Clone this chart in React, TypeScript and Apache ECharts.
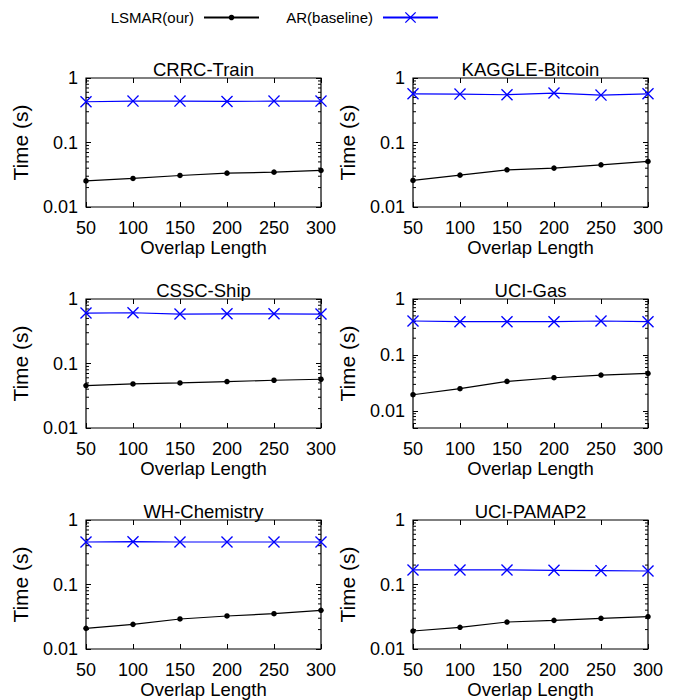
import React, { useEffect, useRef } from "react";
import * as echarts from "echarts";

// ---------- data ----------
const overlapLengths = [50, 100, 150, 200, 250, 300];
const panelTitles = ["CRRC-Train", "KAGGLE-Bitcoin", "CSSC-Ship", "UCI-Gas", "WH-Chemistry", "UCI-PAMAP2"];
const seriesNames = ["LSMAR(our)", "AR(baseline)"];

const lsmarCRRC = [0.0254, 0.0277, 0.0308, 0.0335, 0.0347, 0.0369];
const lsmarKaggle = [0.0258, 0.0312, 0.0377, 0.0401, 0.0451, 0.0509];
const lsmarCSSC = [0.0455, 0.0482, 0.0499, 0.0525, 0.055, 0.057];
const lsmarGas = [0.0196, 0.0251, 0.0339, 0.0394, 0.044, 0.0471];
const lsmarWH = [0.0209, 0.0241, 0.0292, 0.0325, 0.0353, 0.0398];
const lsmarPAMAP = [0.019, 0.0217, 0.0262, 0.0278, 0.0299, 0.0317];

const arCRRC = [0.428, 0.438, 0.438, 0.433, 0.438, 0.438];
const arKaggle = [0.569, 0.563, 0.55, 0.584, 0.543, 0.569];
const arCSSC = [0.605, 0.612, 0.584, 0.59, 0.59, 0.584];
const arGas = [0.405, 0.394, 0.394, 0.394, 0.405, 0.394];
const arWH = [0.456, 0.461, 0.456, 0.456, 0.456, 0.456];
const arPAMAP = [0.168, 0.168, 0.168, 0.166, 0.164, 0.162];

const lsmarAll = [lsmarCRRC, lsmarKaggle, lsmarCSSC, lsmarGas, lsmarWH, lsmarPAMAP];
const arAll = [arCRRC, arKaggle, arCSSC, arGas, arWH, arPAMAP];

const yMins = [0.01, 0.01, 0.01, 0.005, 0.01, 0.01];
const yMax = 1;
const xMin = 50;
const xMax = 300;
const xInterval = 50;
const minorTickValues = [
  0.006, 0.007, 0.008, 0.009,
  0.02, 0.03, 0.04, 0.05, 0.06, 0.07, 0.08, 0.09,
  0.2, 0.3, 0.4, 0.5, 0.6, 0.7, 0.8, 0.9,
];

// ---------- layout / style ----------
const FONT = "'Liberation Sans', Arial, Helvetica, sans-serif";
const GRID_LEFTS = [86, 413];
const GRID_TOPS = [78, 299, 520];
const GRID_W = 235;
const GRID_H = 129;
const BLUE = "#0000ff";
const BLACK = "#000000";
const CROSS = "path://M0 8L8 0L50 42L92 0L100 8L58 50L100 92L92 100L50 58L8 100L0 92L42 50Z";

function isPow10(v: number) {
  const l = Math.log10(v);
  return Math.abs(l - Math.round(l)) < 1e-6;
}

function buildOption() {
  const grid: any[] = [];
  const xAxis: any[] = [];
  const yAxis: any[] = [];
  const series: any[] = [];

  panelTitles.forEach((title, i) => {
    const col = i % 2;
    const row = Math.floor(i / 2);
    grid.push({
      left: GRID_LEFTS[col],
      top: GRID_TOPS[row],
      width: GRID_W,
      height: GRID_H,
      show: true,
      borderColor: BLACK,
      borderWidth: 1.2,
      backgroundColor: "transparent",
    });
    const tickStyle = { color: BLACK, width: 1 };
    xAxis.push({
      gridIndex: i,
      type: "value",
      position: "bottom",
      min: xMin,
      max: xMax,
      interval: xInterval,
      axisLine: { show: false },
      axisTick: { show: true, inside: true, length: 5, lineStyle: tickStyle },
      axisLabel: {
        color: BLACK,
        fontSize: 18,
        fontFamily: FONT,
        margin: 21,
        verticalAlign: "middle",
      },
      splitLine: { show: false },
      name: "Overlap Length",
      nameLocation: "middle",
      nameGap: 40,
      nameTextStyle: { color: BLACK, fontSize: 18.5, fontFamily: FONT, verticalAlign: "middle" },
    });
    xAxis.push({
      gridIndex: i,
      type: "value",
      position: "top",
      min: xMin,
      max: xMax,
      interval: xInterval,
      axisLine: { show: false },
      axisTick: { show: true, inside: true, length: 5, lineStyle: tickStyle },
      axisLabel: { show: false },
      splitLine: { show: false },
      name: title,
      nameLocation: "middle",
      nameGap: 9,
      nameTextStyle: { color: BLACK, fontSize: 18.5, fontFamily: FONT, verticalAlign: "middle" },
    });
    yAxis.push({
      gridIndex: i,
      type: "log",
      logBase: 10,
      position: "left",
      min: yMins[i],
      max: yMax,
      axisLine: { show: false },
      axisTick: { show: true, inside: true, length: 5, lineStyle: tickStyle },
      axisLabel: {
        color: BLACK,
        fontSize: 18,
        fontFamily: FONT,
        margin: 8,
        formatter: (v: number) => (isPow10(v) ? String(Number(v.toPrecision(6))) : ""),
      },
      splitLine: { show: false },
      minorTick: { show: false },
      name: "Time (s)",
      nameLocation: "middle",
      nameGap: 66,
      nameTextStyle: { color: BLACK, fontSize: 21, fontFamily: FONT, verticalAlign: "middle", align: "center" },
    });
    yAxis.push({
      gridIndex: i,
      type: "log",
      logBase: 10,
      position: "right",
      min: yMins[i],
      max: yMax,
      axisLine: { show: false },
      axisTick: { show: true, inside: true, length: 5, lineStyle: tickStyle },
      axisLabel: { show: false },
      splitLine: { show: false },
    });

    const xIdx = 2 * i;
    const yIdx = 2 * i;
    // minor log ticks (mirrored on both sides)
    series.push({
      type: "custom",
      name: "minor-" + i,
      xAxisIndex: xIdx,
      yAxisIndex: yIdx,
      silent: true,
      clip: false,
      data: minorTickValues.filter((v) => v > yMins[i] && v < yMax).map((v) => [xMin, v]),
      renderItem: (params: any, api: any) => {
        const v = api.value(1);
        const pL = api.coord([xMin, v]);
        const pR = api.coord([xMax, v]);
        const st = { stroke: BLACK, lineWidth: 1 };
        return {
          type: "group",
          children: [
            { type: "line", shape: { x1: pL[0], y1: pL[1], x2: pL[0] + 3, y2: pL[1] }, style: st },
            { type: "line", shape: { x1: pR[0] - 3, y1: pR[1], x2: pR[0], y2: pR[1] }, style: st },
          ],
        };
      },
    });
    series.push({
      type: "line",
      name: seriesNames[0],
      xAxisIndex: xIdx,
      yAxisIndex: yIdx,
      data: overlapLengths.map((x, k) => [x, lsmarAll[i][k]]),
      symbol: "circle",
      symbolSize: 5.5,
      showAllSymbol: true,
      itemStyle: { color: BLACK },
      lineStyle: { color: BLACK, width: 1.2 },
      clip: false,
      z: 3,
    });
    series.push({
      type: "line",
      name: seriesNames[1],
      xAxisIndex: xIdx,
      yAxisIndex: yIdx,
      data: overlapLengths.map((x, k) => [x, arAll[i][k]]),
      symbol: CROSS,
      symbolSize: 12,
      showAllSymbol: true,
      itemStyle: { color: BLUE },
      lineStyle: { color: BLUE, width: 1.2 },
      clip: false,
      z: 4,
    });
  });

  const legendText = { color: BLACK, fontSize: 15, fontFamily: FONT, padding: [0, 5, 0, 0] };
  return {
    animation: false,
    backgroundColor: "#ffffff",
    legend: [
      {
        data: [seriesNames[0]],
        right: 416,
        top: 10,
        padding: 0,
        align: "right",
        itemWidth: 55,
        itemHeight: 7,
        textStyle: legendText,
        selectedMode: false,
      },
      {
        data: [seriesNames[1]],
        right: 237,
        top: 10,
        padding: 0,
        align: "right",
        itemWidth: 55,
        itemHeight: 14,
        textStyle: legendText,
        selectedMode: false,
      },
    ],
    grid,
    xAxis,
    yAxis,
    series,
  };
}

export default function App() {
  const ref = useRef<HTMLDivElement>(null);
  useEffect(() => {
    if (!ref.current) return;
    const chart = echarts.init(ref.current, undefined, { renderer: "svg" });
    chart.setOption(buildOption() as any);
    return () => chart.dispose();
  }, []);
  return (
    <div
      ref={ref}
      style={{ position: "absolute", left: 0, top: 0, width: 676, height: 700, background: "#fff" }}
    />
  );
}
